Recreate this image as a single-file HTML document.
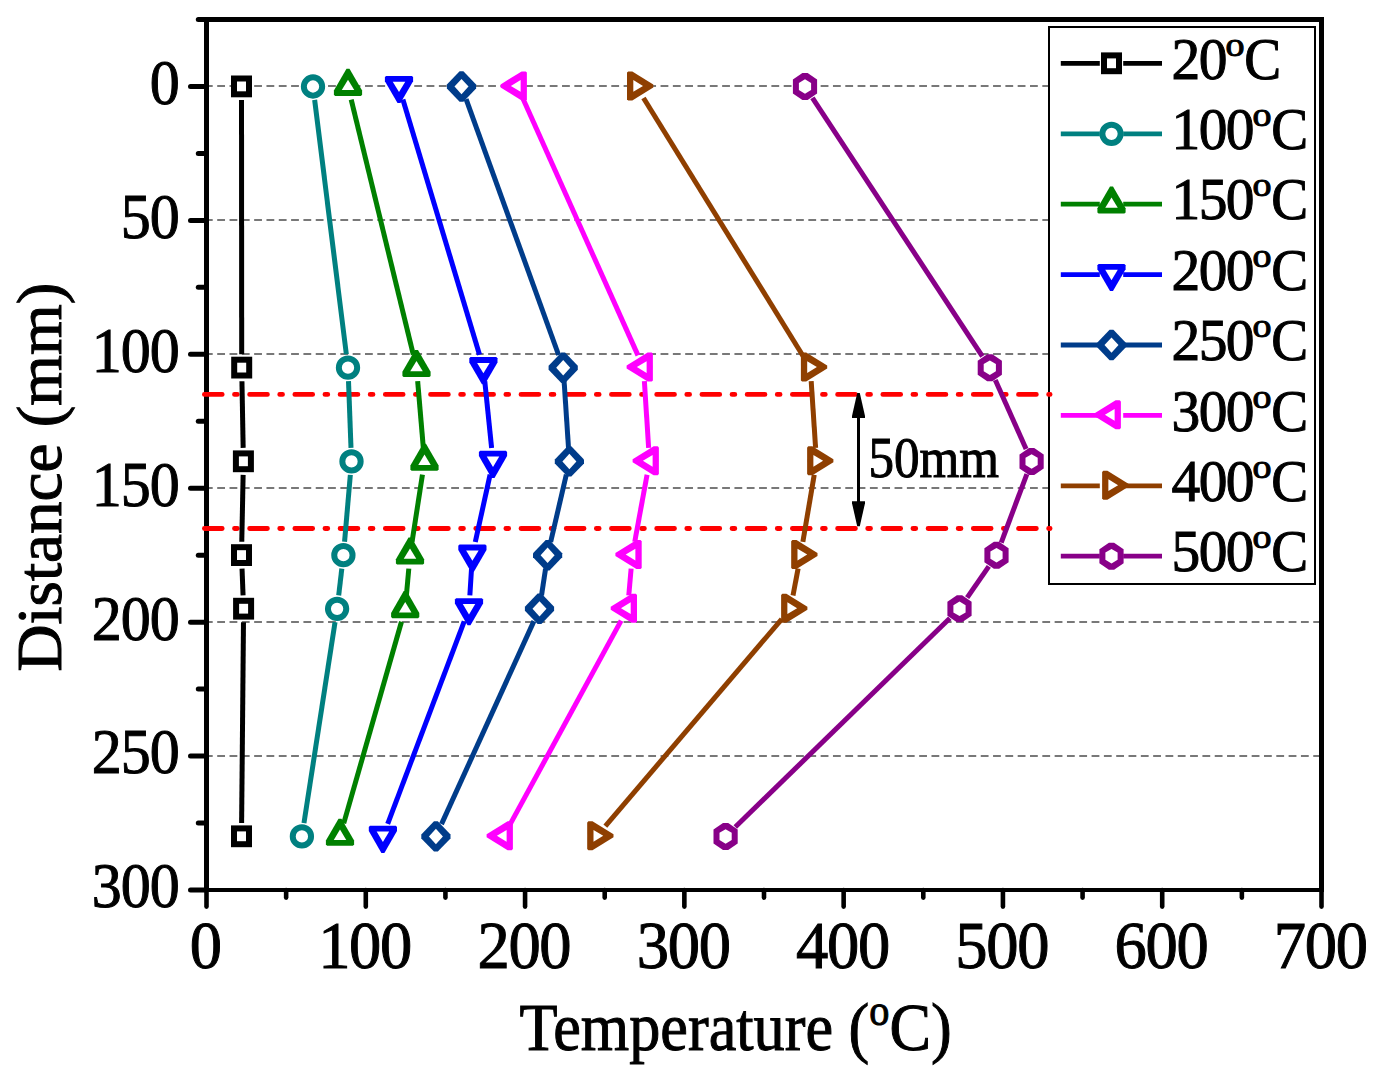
<!DOCTYPE html>
<html><head><meta charset="utf-8"><title>Temperature vs Distance</title>
<style>
html,body{margin:0;padding:0;background:#fff;overflow:hidden}
svg{display:block}
text{font-family:"Liberation Serif",serif;fill:#000;stroke:#000;stroke-width:1px}
</style></head><body>
<svg width="1377" height="1083" viewBox="0 0 1377 1083">
<rect x="0" y="0" width="1377" height="1083" fill="#fff"/>
<g stroke="#787878" stroke-width="2" stroke-dasharray="7.8 4.515" fill="none">
<line x1="204.9" y1="86" x2="1048" y2="86"/>
<line x1="204.9" y1="220" x2="1048" y2="220"/>
<line x1="204.9" y1="354" x2="1048" y2="354"/>
<line x1="204.9" y1="488" x2="1048" y2="488"/>
<line x1="204.9" y1="622" x2="1319" y2="622"/>
<line x1="204.9" y1="756" x2="1319" y2="756"/>
</g>
<g fill="#000">
<rect x="204" y="17" width="5" height="875"/>
<rect x="1319" y="17" width="5" height="875"/>
<rect x="204" y="17" width="1120" height="5"/>
<rect x="204" y="888" width="1120" height="4"/>
</g>
<g stroke="#000" stroke-linecap="round" fill="none">
<line x1="198.3" y1="19.50" x2="206" y2="19.50" stroke-width="5"/>
<line x1="190.5" y1="86.46" x2="206" y2="86.46" stroke-width="5"/>
<line x1="198.3" y1="153.42" x2="206" y2="153.42" stroke-width="5"/>
<line x1="190.5" y1="220.38" x2="206" y2="220.38" stroke-width="5"/>
<line x1="198.3" y1="287.35" x2="206" y2="287.35" stroke-width="5"/>
<line x1="190.5" y1="354.31" x2="206" y2="354.31" stroke-width="5"/>
<line x1="198.3" y1="421.27" x2="206" y2="421.27" stroke-width="5"/>
<line x1="190.5" y1="488.24" x2="206" y2="488.24" stroke-width="5"/>
<line x1="198.3" y1="555.20" x2="206" y2="555.20" stroke-width="5"/>
<line x1="190.5" y1="622.16" x2="206" y2="622.16" stroke-width="5"/>
<line x1="198.3" y1="689.12" x2="206" y2="689.12" stroke-width="5"/>
<line x1="190.5" y1="756.09" x2="206" y2="756.09" stroke-width="5"/>
<line x1="198.3" y1="823.05" x2="206" y2="823.05" stroke-width="5"/>
<line x1="190.5" y1="890.01" x2="206" y2="890.01" stroke-width="5"/>
<line x1="206.50" y1="890" x2="206.50" y2="906.6" stroke-width="4.6"/>
<line x1="286.14" y1="890" x2="286.14" y2="897.6" stroke-width="4.6"/>
<line x1="365.79" y1="890" x2="365.79" y2="906.6" stroke-width="4.6"/>
<line x1="445.43" y1="890" x2="445.43" y2="897.6" stroke-width="4.6"/>
<line x1="525.07" y1="890" x2="525.07" y2="906.6" stroke-width="4.6"/>
<line x1="604.71" y1="890" x2="604.71" y2="897.6" stroke-width="4.6"/>
<line x1="684.36" y1="890" x2="684.36" y2="906.6" stroke-width="4.6"/>
<line x1="764.00" y1="890" x2="764.00" y2="897.6" stroke-width="4.6"/>
<line x1="843.64" y1="890" x2="843.64" y2="906.6" stroke-width="4.6"/>
<line x1="923.29" y1="890" x2="923.29" y2="897.6" stroke-width="4.6"/>
<line x1="1002.93" y1="890" x2="1002.93" y2="906.6" stroke-width="4.6"/>
<line x1="1082.57" y1="890" x2="1082.57" y2="897.6" stroke-width="4.6"/>
<line x1="1162.21" y1="890" x2="1162.21" y2="906.6" stroke-width="4.6"/>
<line x1="1241.86" y1="890" x2="1241.86" y2="897.6" stroke-width="4.6"/>
<line x1="1321.50" y1="890" x2="1321.50" y2="906.6" stroke-width="4.6"/>
</g>
<rect x="1049" y="27" width="266" height="557" fill="#fff" stroke="#000" stroke-width="2"/>
<g stroke="#FF0000" stroke-width="4.8" stroke-linecap="round" stroke-dasharray="17.8 12.3 2.8 12.33" fill="none">
<line x1="204.4" y1="394.4" x2="1050.1" y2="394.4"/>
<line x1="204.4" y1="528.5" x2="1050.1" y2="528.5"/>
</g>
<g stroke="#000000" stroke-width="5" fill="none">
<line x1="241.51" y1="100.00" x2="241.69" y2="354.20"/>
<line x1="241.94" y1="381.20" x2="243.16" y2="447.90"/>
<line x1="243.13" y1="474.90" x2="241.77" y2="541.70"/>
<line x1="242.03" y1="568.69" x2="243.07" y2="595.31"/>
<line x1="243.48" y1="622.30" x2="241.62" y2="822.90"/>
</g>
<g stroke="#008080" stroke-width="5" fill="none">
<line x1="314.67" y1="99.90" x2="346.33" y2="354.30"/>
<line x1="348.50" y1="381.19" x2="351.00" y2="447.91"/>
<line x1="350.34" y1="474.85" x2="344.56" y2="541.75"/>
<line x1="341.82" y1="568.61" x2="338.68" y2="595.39"/>
<line x1="335.04" y1="622.14" x2="303.96" y2="823.06"/>
</g>
<g stroke="#008000" stroke-width="5" fill="none">
<line x1="351.20" y1="99.62" x2="413.30" y2="354.58"/>
<line x1="417.65" y1="381.15" x2="423.35" y2="447.95"/>
<line x1="422.44" y1="474.74" x2="412.06" y2="541.86"/>
<line x1="408.80" y1="568.65" x2="406.40" y2="595.35"/>
<line x1="401.48" y1="621.78" x2="343.72" y2="823.42"/>
</g>
<g stroke="#0000FF" stroke-width="5" fill="none">
<line x1="402.88" y1="99.43" x2="479.52" y2="354.77"/>
<line x1="484.78" y1="381.13" x2="491.62" y2="447.97"/>
<line x1="490.10" y1="474.59" x2="475.30" y2="542.01"/>
<line x1="471.55" y1="568.67" x2="469.85" y2="595.33"/>
<line x1="464.22" y1="621.43" x2="387.68" y2="823.77"/>
</g>
<g stroke="#003C8A" stroke-width="5" fill="none">
<line x1="466.09" y1="99.20" x2="558.61" y2="355.00"/>
<line x1="564.09" y1="381.17" x2="568.51" y2="447.93"/>
<line x1="566.34" y1="474.55" x2="550.66" y2="542.05"/>
<line x1="545.58" y1="568.55" x2="541.52" y2="595.45"/>
<line x1="533.91" y1="621.09" x2="441.49" y2="824.11"/>
</g>
<g stroke="#FF00FF" stroke-width="5" fill="none">
<line x1="523.02" y1="98.82" x2="637.98" y2="355.38"/>
<line x1="644.36" y1="381.17" x2="648.64" y2="447.93"/>
<line x1="647.07" y1="474.68" x2="634.73" y2="541.92"/>
<line x1="631.12" y1="568.65" x2="628.78" y2="595.35"/>
<line x1="621.14" y1="620.65" x2="509.96" y2="824.55"/>
</g>
<g stroke="#8F3F00" stroke-width="5" fill="none">
<line x1="643.50" y1="97.98" x2="803.20" y2="356.22"/>
<line x1="811.19" y1="381.17" x2="815.61" y2="447.93"/>
<line x1="814.24" y1="474.71" x2="802.86" y2="541.89"/>
<line x1="798.10" y1="568.47" x2="793.00" y2="595.53"/>
<line x1="781.75" y1="619.08" x2="605.35" y2="826.12"/>
</g>
<g stroke="#880088" stroke-width="5" fill="none">
<line x1="812.41" y1="97.78" x2="982.39" y2="356.42"/>
<line x1="995.30" y1="380.03" x2="1026.10" y2="449.07"/>
<line x1="1026.87" y1="474.04" x2="1001.23" y2="542.56"/>
<line x1="988.83" y1="566.31" x2="967.17" y2="597.69"/>
<line x1="949.82" y1="618.21" x2="735.28" y2="826.99"/>
</g>
<rect x="234.00" y="78.50" width="15" height="15.8" fill="#fff" stroke="#000000" stroke-width="6"/>
<rect x="234.20" y="359.70" width="15" height="15.8" fill="#fff" stroke="#000000" stroke-width="6"/>
<rect x="235.90" y="453.40" width="15" height="15.8" fill="#fff" stroke="#000000" stroke-width="6"/>
<rect x="234.00" y="547.20" width="15" height="15.8" fill="#fff" stroke="#000000" stroke-width="6"/>
<rect x="236.10" y="600.80" width="15" height="15.8" fill="#fff" stroke="#000000" stroke-width="6"/>
<rect x="234.00" y="828.40" width="15" height="15.8" fill="#fff" stroke="#000000" stroke-width="6"/>
<circle cx="313.00" cy="86.50" r="9.15" fill="#fff" stroke="#008080" stroke-width="6"/>
<circle cx="348.00" cy="367.70" r="9.15" fill="#fff" stroke="#008080" stroke-width="6"/>
<circle cx="351.50" cy="461.40" r="9.15" fill="#fff" stroke="#008080" stroke-width="6"/>
<circle cx="343.40" cy="555.20" r="9.15" fill="#fff" stroke="#008080" stroke-width="6"/>
<circle cx="337.10" cy="608.80" r="9.15" fill="#fff" stroke="#008080" stroke-width="6"/>
<circle cx="301.90" cy="836.40" r="9.15" fill="#fff" stroke="#008080" stroke-width="6"/>
<polygon points="346.50,68.80 349.50,68.80 362.10,90.60 362.10,94.70 360.90,95.90 335.10,95.90 333.90,94.70 333.90,90.60" fill="#008000"/><polygon points="348.00,79.70 354.25,90.10 341.75,90.10" fill="#fff"/>
<polygon points="415.00,350.00 418.00,350.00 430.60,371.80 430.60,375.90 429.40,377.10 403.60,377.10 402.40,375.90 402.40,371.80" fill="#008000"/><polygon points="416.50,360.90 422.75,371.30 410.25,371.30" fill="#fff"/>
<polygon points="423.00,443.70 426.00,443.70 438.60,465.50 438.60,469.60 437.40,470.80 411.60,470.80 410.40,469.60 410.40,465.50" fill="#008000"/><polygon points="424.50,454.60 430.75,465.00 418.25,465.00" fill="#fff"/>
<polygon points="408.50,537.50 411.50,537.50 424.10,559.30 424.10,563.40 422.90,564.60 397.10,564.60 395.90,563.40 395.90,559.30" fill="#008000"/><polygon points="410.00,548.40 416.25,558.80 403.75,558.80" fill="#fff"/>
<polygon points="403.70,591.10 406.70,591.10 419.30,612.90 419.30,617.00 418.10,618.20 392.30,618.20 391.10,617.00 391.10,612.90" fill="#008000"/><polygon points="405.20,602.00 411.45,612.40 398.95,612.40" fill="#fff"/>
<polygon points="338.50,818.70 341.50,818.70 354.10,840.50 354.10,844.60 352.90,845.80 327.10,845.80 325.90,844.60 325.90,840.50" fill="#008000"/><polygon points="340.00,829.60 346.25,840.00 333.75,840.00" fill="#fff"/>
<polygon points="397.50,103.00 400.50,103.00 413.10,81.20 413.10,77.10 411.90,75.90 386.10,75.90 384.90,77.10 384.90,81.20" fill="#0000FF"/><polygon points="399.00,92.10 405.25,81.70 392.75,81.70" fill="#fff"/>
<polygon points="481.90,384.20 484.90,384.20 497.50,362.40 497.50,358.30 496.30,357.10 470.50,357.10 469.30,358.30 469.30,362.40" fill="#0000FF"/><polygon points="483.40,373.30 489.65,362.90 477.15,362.90" fill="#fff"/>
<polygon points="491.50,477.90 494.50,477.90 507.10,456.10 507.10,452.00 505.90,450.80 480.10,450.80 478.90,452.00 478.90,456.10" fill="#0000FF"/><polygon points="493.00,467.00 499.25,456.60 486.75,456.60" fill="#fff"/>
<polygon points="470.90,571.70 473.90,571.70 486.50,549.90 486.50,545.80 485.30,544.60 459.50,544.60 458.30,545.80 458.30,549.90" fill="#0000FF"/><polygon points="472.40,560.80 478.65,550.40 466.15,550.40" fill="#fff"/>
<polygon points="467.50,625.30 470.50,625.30 483.10,603.50 483.10,599.40 481.90,598.20 456.10,598.20 454.90,599.40 454.90,603.50" fill="#0000FF"/><polygon points="469.00,614.40 475.25,604.00 462.75,604.00" fill="#fff"/>
<polygon points="381.40,852.90 384.40,852.90 397.00,831.10 397.00,827.00 395.80,825.80 370.00,825.80 368.80,827.00 368.80,831.10" fill="#0000FF"/><polygon points="382.90,842.00 389.15,831.60 376.65,831.60" fill="#fff"/>
<polygon points="459.60,71.30 463.40,71.30 476.10,84.50 476.10,88.50 463.40,101.70 459.60,101.70 446.90,88.50 446.90,84.50" fill="#003C8A"/><polygon points="461.50,78.90 468.50,86.50 461.50,94.30 454.50,86.50" fill="#fff"/>
<polygon points="561.30,352.50 565.10,352.50 577.80,365.70 577.80,369.70 565.10,382.90 561.30,382.90 548.60,369.70 548.60,365.70" fill="#003C8A"/><polygon points="563.20,360.10 570.20,367.70 563.20,375.50 556.20,367.70" fill="#fff"/>
<polygon points="567.50,446.20 571.30,446.20 584.00,459.40 584.00,463.40 571.30,476.60 567.50,476.60 554.80,463.40 554.80,459.40" fill="#003C8A"/><polygon points="569.40,453.80 576.40,461.40 569.40,469.20 562.40,461.40" fill="#fff"/>
<polygon points="545.70,540.00 549.50,540.00 562.20,553.20 562.20,557.20 549.50,570.40 545.70,570.40 533.00,557.20 533.00,553.20" fill="#003C8A"/><polygon points="547.60,547.60 554.60,555.20 547.60,563.00 540.60,555.20" fill="#fff"/>
<polygon points="537.60,593.60 541.40,593.60 554.10,606.80 554.10,610.80 541.40,624.00 537.60,624.00 524.90,610.80 524.90,606.80" fill="#003C8A"/><polygon points="539.50,601.20 546.50,608.80 539.50,616.60 532.50,608.80" fill="#fff"/>
<polygon points="434.00,821.20 437.80,821.20 450.50,834.40 450.50,838.40 437.80,851.60 434.00,851.60 421.30,838.40 421.30,834.40" fill="#003C8A"/><polygon points="435.90,828.80 442.90,836.40 435.90,844.20 428.90,836.40" fill="#fff"/>
<polygon points="500.60,84.40 500.60,87.40 521.60,100.40 525.70,100.40 526.90,99.20 526.90,72.60 525.70,71.40 521.60,71.40" fill="#FF00FF"/><polygon points="510.90,85.90 520.60,91.80 520.60,80.00" fill="#fff"/>
<polygon points="626.60,365.60 626.60,368.60 647.60,381.60 651.70,381.60 652.90,380.40 652.90,353.80 651.70,352.60 647.60,352.60" fill="#FF00FF"/><polygon points="636.90,367.10 646.60,373.00 646.60,361.20" fill="#fff"/>
<polygon points="632.60,459.30 632.60,462.30 653.60,475.30 657.70,475.30 658.90,474.10 658.90,447.50 657.70,446.30 653.60,446.30" fill="#FF00FF"/><polygon points="642.90,460.80 652.60,466.70 652.60,454.90" fill="#fff"/>
<polygon points="615.40,553.10 615.40,556.10 636.40,569.10 640.50,569.10 641.70,567.90 641.70,541.30 640.50,540.10 636.40,540.10" fill="#FF00FF"/><polygon points="625.70,554.60 635.40,560.50 635.40,548.70" fill="#fff"/>
<polygon points="610.70,606.70 610.70,609.70 631.70,622.70 635.80,622.70 637.00,621.50 637.00,594.90 635.80,593.70 631.70,593.70" fill="#FF00FF"/><polygon points="621.00,608.20 630.70,614.10 630.70,602.30" fill="#fff"/>
<polygon points="486.60,834.30 486.60,837.30 507.60,850.30 511.70,850.30 512.90,849.10 512.90,822.50 511.70,821.30 507.60,821.30" fill="#FF00FF"/><polygon points="496.90,835.80 506.60,841.70 506.60,829.90" fill="#fff"/>
<polygon points="653.30,84.40 653.30,87.40 632.30,100.40 628.20,100.40 627.00,99.20 627.00,72.60 628.20,71.40 632.30,71.40" fill="#8F3F00"/><polygon points="643.00,85.90 633.30,91.80 633.30,80.00" fill="#fff"/>
<polygon points="827.20,365.60 827.20,368.60 806.20,381.60 802.10,381.60 800.90,380.40 800.90,353.80 802.10,352.60 806.20,352.60" fill="#8F3F00"/><polygon points="816.90,367.10 807.20,373.00 807.20,361.20" fill="#fff"/>
<polygon points="833.40,459.30 833.40,462.30 812.40,475.30 808.30,475.30 807.10,474.10 807.10,447.50 808.30,446.30 812.40,446.30" fill="#8F3F00"/><polygon points="823.10,460.80 813.40,466.70 813.40,454.90" fill="#fff"/>
<polygon points="817.50,553.10 817.50,556.10 796.50,569.10 792.40,569.10 791.20,567.90 791.20,541.30 792.40,540.10 796.50,540.10" fill="#8F3F00"/><polygon points="807.20,554.60 797.50,560.50 797.50,548.70" fill="#fff"/>
<polygon points="807.40,606.70 807.40,609.70 786.40,622.70 782.30,622.70 781.10,621.50 781.10,594.90 782.30,593.70 786.40,593.70" fill="#8F3F00"/><polygon points="797.10,608.20 787.40,614.10 787.40,602.30" fill="#fff"/>
<polygon points="613.50,834.30 613.50,837.30 592.50,850.30 588.40,850.30 587.20,849.10 587.20,822.50 588.40,821.30 592.50,821.30" fill="#8F3F00"/><polygon points="603.20,835.80 593.50,841.70 593.50,829.90" fill="#fff"/>
<polygon points="802.40,73.00 807.60,73.00 817.10,79.50 817.10,93.50 807.60,100.00 802.40,100.00 792.90,93.50 792.90,79.50" fill="#880088"/><polygon points="805.00,79.25 811.10,82.90 811.10,90.10 805.00,93.75 798.90,90.10 798.90,82.90" fill="#fff"/>
<polygon points="987.20,354.20 992.40,354.20 1001.90,360.70 1001.90,374.70 992.40,381.20 987.20,381.20 977.70,374.70 977.70,360.70" fill="#880088"/><polygon points="989.80,360.45 995.90,364.10 995.90,371.30 989.80,374.95 983.70,371.30 983.70,364.10" fill="#fff"/>
<polygon points="1029.00,447.90 1034.20,447.90 1043.70,454.40 1043.70,468.40 1034.20,474.90 1029.00,474.90 1019.50,468.40 1019.50,454.40" fill="#880088"/><polygon points="1031.60,454.15 1037.70,457.80 1037.70,465.00 1031.60,468.65 1025.50,465.00 1025.50,457.80" fill="#fff"/>
<polygon points="993.90,541.70 999.10,541.70 1008.60,548.20 1008.60,562.20 999.10,568.70 993.90,568.70 984.40,562.20 984.40,548.20" fill="#880088"/><polygon points="996.50,547.95 1002.60,551.60 1002.60,558.80 996.50,562.45 990.40,558.80 990.40,551.60" fill="#fff"/>
<polygon points="956.90,595.30 962.10,595.30 971.60,601.80 971.60,615.80 962.10,622.30 956.90,622.30 947.40,615.80 947.40,601.80" fill="#880088"/><polygon points="959.50,601.55 965.60,605.20 965.60,612.40 959.50,616.05 953.40,612.40 953.40,605.20" fill="#fff"/>
<polygon points="723.00,822.90 728.20,822.90 737.70,829.40 737.70,843.40 728.20,849.90 723.00,849.90 713.50,843.40 713.50,829.40" fill="#880088"/><polygon points="725.60,829.15 731.70,832.80 731.70,840.00 725.60,843.65 719.50,840.00 719.50,832.80" fill="#fff"/>
<g fill="#000">
<rect x="857" y="410" width="3" height="100"/>
<polygon points="857.2,393 859.8,393 865,416 865,418 852,418 852,416"/>
<polygon points="857.2,526.2 859.8,526.2 865,503.2 865,501.2 852,501.2 852,503.2"/>
</g>
<path d="M1060.8 63.40H1099.8M1123.2 63.40H1162" stroke="#000000" stroke-width="4.8" fill="none"/>
<rect x="1104.00" y="55.40" width="15" height="15.8" fill="#fff" stroke="#000000" stroke-width="6"/>
<path d="M1060.8 133.80H1099.8M1123.2 133.80H1162" stroke="#008080" stroke-width="4.8" fill="none"/>
<circle cx="1111.50" cy="133.80" r="9.15" fill="#fff" stroke="#008080" stroke-width="6"/>
<path d="M1060.8 204.20H1099.8M1123.2 204.20H1162" stroke="#008000" stroke-width="4.8" fill="none"/>
<polygon points="1110.00,186.50 1113.00,186.50 1125.60,208.30 1125.60,212.40 1124.40,213.60 1098.60,213.60 1097.40,212.40 1097.40,208.30" fill="#008000"/><polygon points="1111.50,197.40 1117.75,207.80 1105.25,207.80" fill="#fff"/>
<path d="M1060.8 274.60H1099.8M1123.2 274.60H1162" stroke="#0000FF" stroke-width="4.8" fill="none"/>
<polygon points="1110.00,291.10 1113.00,291.10 1125.60,269.30 1125.60,265.20 1124.40,264.00 1098.60,264.00 1097.40,265.20 1097.40,269.30" fill="#0000FF"/><polygon points="1111.50,280.20 1117.75,269.80 1105.25,269.80" fill="#fff"/>
<path d="M1060.8 345.00H1099.8M1123.2 345.00H1162" stroke="#003C8A" stroke-width="4.8" fill="none"/>
<polygon points="1109.60,329.80 1113.40,329.80 1126.10,343.00 1126.10,347.00 1113.40,360.20 1109.60,360.20 1096.90,347.00 1096.90,343.00" fill="#003C8A"/><polygon points="1111.50,337.40 1118.50,345.00 1111.50,352.80 1104.50,345.00" fill="#fff"/>
<path d="M1060.8 415.40H1099.8M1123.2 415.40H1162" stroke="#FF00FF" stroke-width="4.8" fill="none"/>
<polygon points="1094.60,413.30 1094.60,416.30 1115.60,429.30 1119.70,429.30 1120.90,428.10 1120.90,401.50 1119.70,400.30 1115.60,400.30" fill="#FF00FF"/><polygon points="1104.90,414.80 1114.60,420.70 1114.60,408.90" fill="#fff"/>
<path d="M1060.8 485.80H1099.8M1123.2 485.80H1162" stroke="#8F3F00" stroke-width="4.8" fill="none"/>
<polygon points="1128.40,483.70 1128.40,486.70 1107.40,499.70 1103.30,499.70 1102.10,498.50 1102.10,471.90 1103.30,470.70 1107.40,470.70" fill="#8F3F00"/><polygon points="1118.10,485.20 1108.40,491.10 1108.40,479.30" fill="#fff"/>
<path d="M1060.8 556.20H1099.8M1123.2 556.20H1162" stroke="#880088" stroke-width="4.8" fill="none"/>
<polygon points="1108.90,542.70 1114.10,542.70 1123.60,549.20 1123.60,563.20 1114.10,569.70 1108.90,569.70 1099.40,563.20 1099.40,549.20" fill="#880088"/><polygon points="1111.50,548.95 1117.60,552.60 1117.60,559.80 1111.50,563.45 1105.40,559.80 1105.40,552.60" fill="#fff"/>
<text transform="translate(178.60,103.86) scale(0.945,1)" font-size="63.5" letter-spacing="-1.1" text-anchor="end">0</text>
<text transform="translate(178.60,237.78) scale(0.945,1)" font-size="63.5" letter-spacing="-1.1" text-anchor="end">50</text>
<text transform="translate(178.60,371.71) scale(0.945,1)" font-size="63.5" letter-spacing="-1.1" text-anchor="end">100</text>
<text transform="translate(178.60,505.63) scale(0.945,1)" font-size="63.5" letter-spacing="-1.1" text-anchor="end">150</text>
<text transform="translate(178.60,639.56) scale(0.945,1)" font-size="63.5" letter-spacing="-1.1" text-anchor="end">200</text>
<text transform="translate(178.60,773.49) scale(0.945,1)" font-size="63.5" letter-spacing="-1.1" text-anchor="end">250</text>
<text transform="translate(178.60,907.41) scale(0.945,1)" font-size="63.5" letter-spacing="-1.1" text-anchor="end">300</text>
<text transform="translate(205.30,968.4) scale(0.95,1)" font-size="68" letter-spacing="-1.4" text-anchor="middle">0</text>
<text transform="translate(364.59,968.4) scale(0.95,1)" font-size="68" letter-spacing="-1.4" text-anchor="middle">100</text>
<text transform="translate(523.87,968.4) scale(0.95,1)" font-size="68" letter-spacing="-1.4" text-anchor="middle">200</text>
<text transform="translate(683.16,968.4) scale(0.95,1)" font-size="68" letter-spacing="-1.4" text-anchor="middle">300</text>
<text transform="translate(842.44,968.4) scale(0.95,1)" font-size="68" letter-spacing="-1.4" text-anchor="middle">400</text>
<text transform="translate(1001.73,968.4) scale(0.95,1)" font-size="68" letter-spacing="-1.4" text-anchor="middle">500</text>
<text transform="translate(1161.01,968.4) scale(0.95,1)" font-size="68" letter-spacing="-1.4" text-anchor="middle">600</text>
<text transform="translate(1320.30,968.4) scale(0.95,1)" font-size="68" letter-spacing="-1.4" text-anchor="middle">700</text>
<text transform="translate(1171.6,78.60) scale(0.965,1)" font-size="59.5" letter-spacing="-1.7">20</text>
<text transform="translate(1225.40,55.50) scale(1.12,1)" x="0" y="0" font-size="34">o</text>
<text transform="translate(1244.20,78.60) scale(0.93,1)" x="0" y="0" font-size="59.5">C</text>
<text transform="translate(1171.6,149.00) scale(0.965,1)" font-size="59.5" letter-spacing="-1.7">100</text>
<text transform="translate(1252.40,125.90) scale(1.12,1)" x="0" y="0" font-size="34">o</text>
<text transform="translate(1271.20,149.00) scale(0.93,1)" x="0" y="0" font-size="59.5">C</text>
<text transform="translate(1171.6,219.40) scale(0.965,1)" font-size="59.5" letter-spacing="-1.7">150</text>
<text transform="translate(1252.40,196.30) scale(1.12,1)" x="0" y="0" font-size="34">o</text>
<text transform="translate(1271.20,219.40) scale(0.93,1)" x="0" y="0" font-size="59.5">C</text>
<text transform="translate(1171.6,289.80) scale(0.965,1)" font-size="59.5" letter-spacing="-1.7">200</text>
<text transform="translate(1252.40,266.70) scale(1.12,1)" x="0" y="0" font-size="34">o</text>
<text transform="translate(1271.20,289.80) scale(0.93,1)" x="0" y="0" font-size="59.5">C</text>
<text transform="translate(1171.6,360.20) scale(0.965,1)" font-size="59.5" letter-spacing="-1.7">250</text>
<text transform="translate(1252.40,337.10) scale(1.12,1)" x="0" y="0" font-size="34">o</text>
<text transform="translate(1271.20,360.20) scale(0.93,1)" x="0" y="0" font-size="59.5">C</text>
<text transform="translate(1171.6,430.60) scale(0.965,1)" font-size="59.5" letter-spacing="-1.7">300</text>
<text transform="translate(1252.40,407.50) scale(1.12,1)" x="0" y="0" font-size="34">o</text>
<text transform="translate(1271.20,430.60) scale(0.93,1)" x="0" y="0" font-size="59.5">C</text>
<text transform="translate(1171.6,501.00) scale(0.965,1)" font-size="59.5" letter-spacing="-1.7">400</text>
<text transform="translate(1252.40,477.90) scale(1.12,1)" x="0" y="0" font-size="34">o</text>
<text transform="translate(1271.20,501.00) scale(0.93,1)" x="0" y="0" font-size="59.5">C</text>
<text transform="translate(1171.6,571.40) scale(0.965,1)" font-size="59.5" letter-spacing="-1.7">500</text>
<text transform="translate(1252.40,548.30) scale(1.12,1)" x="0" y="0" font-size="34">o</text>
<text transform="translate(1271.20,571.40) scale(0.93,1)" x="0" y="0" font-size="59.5">C</text>
<text x="868.5" y="477.2" font-size="56" textLength="130.5" lengthAdjust="spacingAndGlyphs">50mm</text>
<text x="519.6" y="1050.1" font-size="68" textLength="432" lengthAdjust="spacingAndGlyphs">Temperature (<tspan font-size="44" dy="-25">o</tspan><tspan dy="25">C)</tspan></text>
<text transform="translate(61.2,671.6) rotate(-90)" x="0" y="0" font-size="63" textLength="389" lengthAdjust="spacingAndGlyphs">Distance (mm)</text>
</svg>
</body></html>
